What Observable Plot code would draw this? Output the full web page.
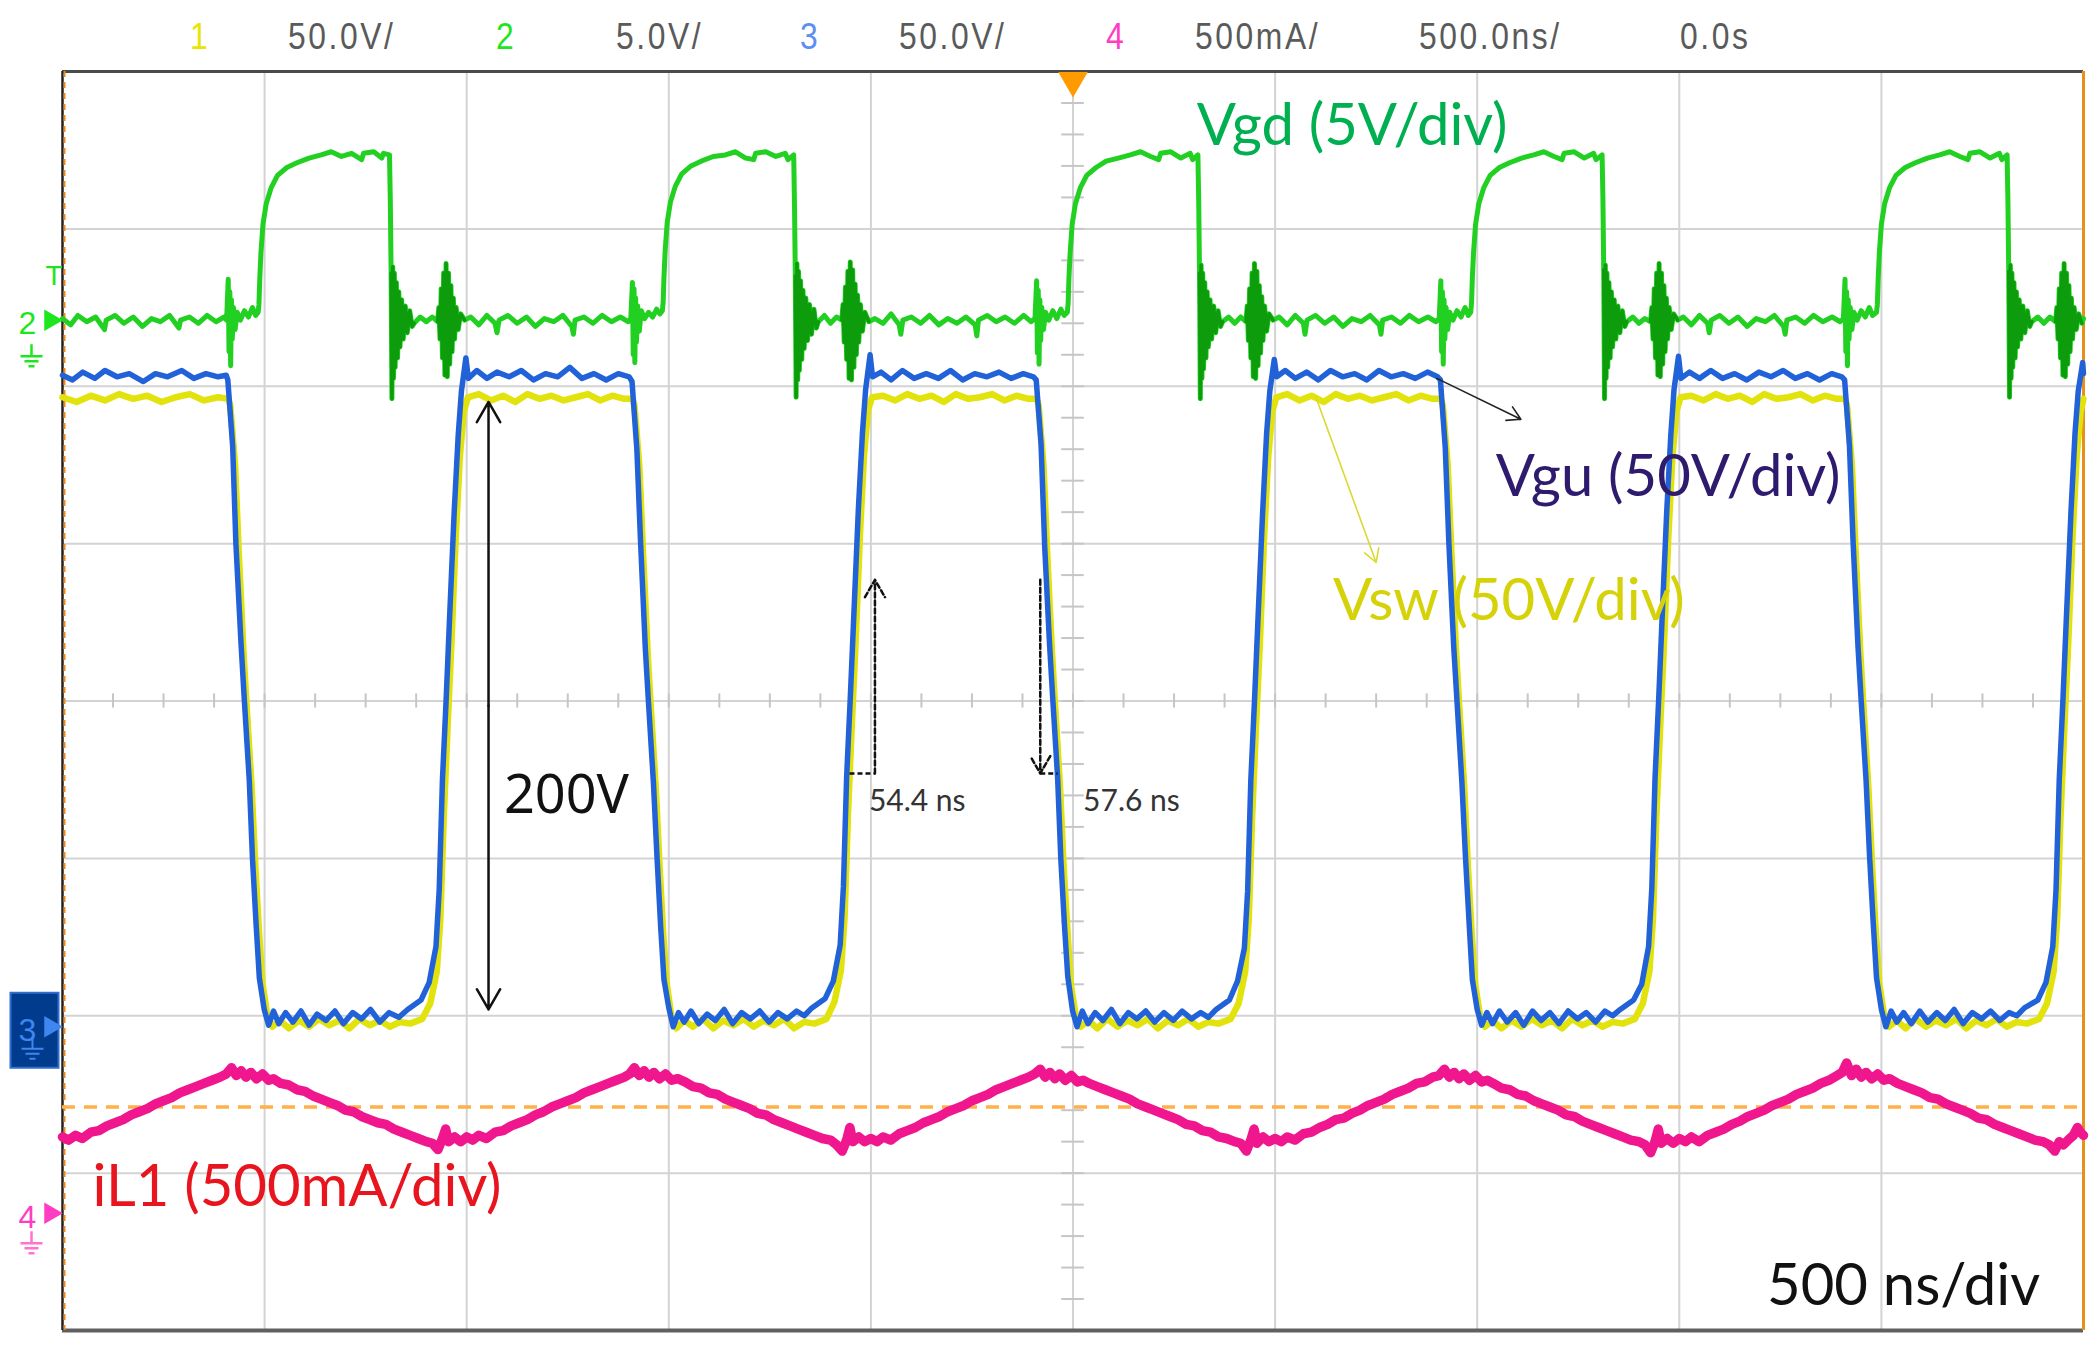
<!DOCTYPE html>
<html><head><meta charset="utf-8">
<script src="https://cdn.jsdelivr.net/npm/d3@7"></script>
<script src="https://cdn.jsdelivr.net/npm/@observablehq/plot@0.6"></script>
<style>
html,body{margin:0;padding:0;background:#fff;}
#wrap{position:relative;width:2100px;height:1348px;overflow:hidden;background:#fff;}
#chart{position:absolute;left:0;top:0;}
.hdr{position:absolute;top:18px;font-family:"Liberation Sans",sans-serif;font-size:37px;line-height:1;color:#5a5a5a;letter-spacing:3px;white-space:nowrap;z-index:2;transform:scaleX(0.86);transform-origin:left top}
</style></head>
<body><div id="wrap"><div id="hdr"></div><div id="chart"></div></div>
<script>
// ---------- screen window (ns, divisions) ----------
const timeWindow = [-2500, 2500];
const divWindow = [-4, 4];
const gridTimes = [-2000, -1500, -1000, -500, 0, 500, 1000, 1500, 2000];
const gridDivs = [-3, -2, -1, 0, 1, 2, 3];
const triggerTime = [0];
const cursorLevel = [-2.58];

// ---------- header (channel settings) ----------
const headerItems = [
  {text: "1", color: "#e6e600", left: 190},
  {text: "50.0V/", color: "#5a5a5a", left: 288},
  {text: "2", color: "#1ee61e", left: 496},
  {text: "5.0V/", color: "#5a5a5a", left: 616},
  {text: "3", color: "#5b8ff2", left: 800},
  {text: "50.0V/", color: "#5a5a5a", left: 899},
  {text: "4", color: "#ff3cc4", left: 1106},
  {text: "500mA/", color: "#5a5a5a", left: 1195},
  {text: "500.0ns/", color: "#5a5a5a", left: 1419},
  {text: "0.0s", color: "#5a5a5a", left: 1680}
];

// ---------- channel ground markers ----------
const channelMarkers = [
  {ch: "2", level: 2.42, color: "#1ee61e"},
  {ch: "3", level: -2.07, color: "#3f86f0"},
  {ch: "4", level: -3.255, color: "#ff3cc4"}
];

// ---------- Vgu (ch3), [ns, div] ----------
const vgu = [
[-2500,2.07],[-2475,2.04],[-2450,2.09],[-2420,2.05],[-2395,2.1],[-2365,2.06],[-2335,2.08],[-2300,2.03],[-2270,2.08],[-2240,2.06],[-2205,2.1],[-2175,2.05],[-2145,2.08],[-2115,2.06],[-2095,2.07],
[-2091,2.04],[-2079,1.62],[-2071,1.0],[-2058,0.35],[-2050,0.0],[-2038,-0.5],[-2030,-1.0],[-2021,-1.42],[-2013,-1.76],[-2001,-1.96],[-1990,-2.06],
[-1978,-1.97],[-1965,-2.05],[-1948,-1.98],[-1930,-2.04],[-1910,-1.97],[-1890,-2.06],[-1870,-1.99],[-1848,-2.03],[-1826,-1.97],[-1805,-2.05],[-1782,-1.98],[-1760,-2.02],[-1738,-1.96],[-1715,-2.04],[-1692,-1.98],[-1668,-2.01],[-1646,-1.96],
[-1613,-1.9],[-1593,-1.79],[-1576,-1.56],[-1568,-1.2],[-1560,-0.5],[-1551,0.0],[-1543,0.49],[-1531,1.2],[-1521,1.69],[-1513,1.97],[-1502,2.18],[-1496,2.05],
[-1475,2.1],[-1450,2.05],[-1425,2.09],[-1395,2.06],[-1365,2.1],[-1335,2.04],[-1305,2.08],[-1275,2.06],[-1245,2.12],[-1215,2.05],[-1185,2.08],[-1155,2.04],[-1125,2.08],[-1098,2.06],
[-1091,2.03],[-1079,1.6],[-1070,1.02],[-1058,0.33],[-1050,-0.02],[-1038,-0.52],[-1029,-1.0],[-1020,-1.44],[-1012,-1.77],[-1000,-1.95],[-989,-2.07],
[-976,-1.98],[-962,-2.04],[-945,-1.97],[-926,-2.05],[-905,-1.99],[-885,-2.03],[-863,-1.96],[-842,-2.05],[-820,-1.98],[-798,-2.02],[-775,-1.97],[-752,-2.04],[-730,-1.98],[-707,-2.02],[-684,-1.97],[-665,-2.0],[-646,-1.95],
[-613,-1.89],[-593,-1.78],[-576,-1.55],[-568,-1.18],[-560,-0.48],[-551,0.02],[-543,0.5],[-531,1.22],[-521,1.7],[-513,1.98],[-502,2.2],[-496,2.06],
[-475,2.09],[-450,2.04],[-422,2.1],[-393,2.05],[-363,2.08],[-333,2.05],[-303,2.1],[-273,2.04],[-243,2.08],[-213,2.06],[-183,2.09],[-153,2.05],[-123,2.08],[-98,2.06],
[-91,2.04],[-79,1.63],[-70,0.98],[-58,0.36],[-50,0.01],[-38,-0.49],[-30,-1.01],[-21,-1.43],[-13,-1.75],[-1,-1.97],[10,-2.07],
[23,-1.97],[37,-2.05],[55,-1.98],[74,-2.03],[95,-1.96],[116,-2.05],[137,-1.98],[158,-2.02],[180,-1.97],[202,-2.04],[225,-1.98],[248,-2.03],[270,-1.97],[293,-2.02],[316,-1.98],[335,-2.01],[354,-1.96],
[387,-1.9],[407,-1.78],[424,-1.57],[432,-1.21],[440,-0.5],[449,0.0],[457,0.48],[469,1.19],[479,1.7],[487,1.97],[498,2.17],[504,2.06],
[525,2.1],[550,2.05],[578,2.09],[607,2.04],[637,2.1],[667,2.06],[697,2.08],[727,2.04],[757,2.1],[787,2.06],[817,2.08],[847,2.05],[877,2.09],[902,2.06],
[909,2.04],[921,1.61],[930,1.0],[942,0.34],[950,0.0],[962,-0.51],[971,-0.99],[980,-1.41],[988,-1.77],[1000,-1.96],[1011,-2.06],
[1024,-1.98],[1038,-2.05],[1055,-1.97],[1074,-2.04],[1095,-1.98],[1115,-2.06],[1137,-1.97],[1158,-2.03],[1180,-1.98],[1202,-2.05],[1225,-1.97],[1248,-2.02],[1270,-1.98],[1293,-2.04],[1316,-1.97],[1335,-2.0],[1354,-1.96],
[1387,-1.9],[1407,-1.8],[1424,-1.56],[1432,-1.19],[1440,-0.49],[1449,0.01],[1457,0.5],[1469,1.21],[1479,1.69],[1487,1.98],[1498,2.19],[1504,2.05],
[1525,2.09],[1550,2.05],[1578,2.1],[1607,2.05],[1637,2.08],[1667,2.04],[1697,2.09],[1727,2.06],[1757,2.1],[1787,2.05],[1817,2.08],[1847,2.04],[1877,2.08],[1902,2.06],
[1909,2.04],[1921,1.62],[1930,1.01],[1942,0.35],[1950,0.0],[1962,-0.5],[1971,-1.0],[1980,-1.42],[1988,-1.76],[2000,-1.96],[2011,-2.07],
[2024,-1.97],[2038,-2.04],[2055,-1.98],[2074,-2.05],[2095,-1.97],[2115,-2.04],[2137,-1.98],[2158,-2.03],[2180,-1.96],[2202,-2.05],[2225,-1.98],[2248,-2.02],[2270,-1.97],[2293,-2.03],[2316,-1.98],[2335,-2.0],[2354,-1.95],
[2387,-1.9],[2407,-1.79],[2424,-1.56],[2432,-1.2],[2440,-0.5],[2449,0.0],[2457,0.49],[2469,1.2],[2479,1.7],[2487,1.97],[2498,2.15],[2500,2.08]
];

// ---------- Vsw (ch1), [ns, div] ----------
const vsw = [
[-2500,1.93],[-2465,1.9],[-2430,1.94],[-2395,1.91],[-2360,1.95],[-2325,1.92],[-2290,1.94],[-2255,1.9],[-2220,1.93],[-2185,1.95],[-2150,1.91],[-2115,1.93],[-2090,1.92],
[-2085,1.88],[-2073,1.5],[-2064,0.95],[-2052,0.3],[-2044,-0.05],[-2032,-0.55],[-2023,-1.05],[-2014,-1.46],[-2005,-1.8],[-1993,-2.0],[-1981,-2.07],
[-1962,-2.03],[-1940,-2.08],[-1915,-2.03],[-1890,-2.07],[-1865,-2.02],[-1840,-2.06],[-1815,-2.03],[-1790,-2.08],[-1765,-2.02],[-1740,-2.06],[-1715,-2.03],[-1690,-2.07],[-1665,-2.04],[-1640,-2.05],
[-1610,-2.02],[-1590,-1.92],[-1574,-1.72],[-1565,-1.38],[-1557,-0.75],[-1547,-0.15],[-1538,0.35],[-1527,1.05],[-1517,1.55],[-1507,1.84],[-1497,1.93],
[-1470,1.95],[-1440,1.91],[-1410,1.94],[-1380,1.9],[-1350,1.95],[-1320,1.92],[-1290,1.94],[-1260,1.91],[-1230,1.93],[-1200,1.95],[-1170,1.91],[-1140,1.94],[-1110,1.92],[-1090,1.92],
[-1085,1.88],[-1073,1.5],[-1064,0.96],[-1052,0.29],[-1044,-0.06],[-1032,-0.56],[-1023,-1.04],[-1014,-1.47],[-1005,-1.8],[-993,-2.01],[-981,-2.08],
[-962,-2.03],[-940,-2.07],[-915,-2.02],[-890,-2.08],[-865,-2.03],[-840,-2.06],[-815,-2.02],[-790,-2.07],[-765,-2.03],[-740,-2.06],[-715,-2.02],[-690,-2.08],[-665,-2.04],[-640,-2.05],
[-610,-2.02],[-590,-1.91],[-574,-1.71],[-565,-1.37],[-557,-0.74],[-547,-0.14],[-538,0.36],[-527,1.06],[-517,1.56],[-507,1.85],[-497,1.93],
[-470,1.94],[-440,1.91],[-410,1.95],[-380,1.92],[-350,1.94],[-320,1.9],[-290,1.95],[-260,1.92],[-230,1.93],[-200,1.95],[-170,1.91],[-140,1.94],[-110,1.92],[-90,1.92],
[-85,1.88],[-73,1.5],[-64,0.95],[-52,0.31],[-44,-0.04],[-32,-0.55],[-23,-1.06],[-14,-1.45],[-5,-1.81],[7,-2.0],[19,-2.07],
[38,-2.03],[60,-2.08],[85,-2.02],[110,-2.07],[135,-2.03],[160,-2.06],[185,-2.02],[210,-2.08],[235,-2.03],[260,-2.06],[285,-2.02],[310,-2.07],[335,-2.04],[360,-2.05],
[390,-2.02],[410,-1.92],[426,-1.72],[435,-1.38],[443,-0.75],[453,-0.15],[462,0.35],[473,1.05],[483,1.55],[493,1.84],[503,1.93],
[530,1.95],[560,1.91],[590,1.94],[620,1.9],[650,1.95],[680,1.92],[710,1.94],[740,1.91],[770,1.93],[800,1.95],[830,1.91],[860,1.94],[890,1.92],[910,1.92],
[915,1.88],[927,1.5],[936,0.95],[948,0.3],[956,-0.05],[968,-0.55],[977,-1.05],[986,-1.46],[995,-1.8],[1007,-2.0],[1019,-2.07],
[1038,-2.03],[1060,-2.08],[1085,-2.03],[1110,-2.07],[1135,-2.02],[1160,-2.06],[1185,-2.03],[1210,-2.08],[1235,-2.02],[1260,-2.06],[1285,-2.03],[1310,-2.07],[1335,-2.04],[1360,-2.05],
[1390,-2.02],[1410,-1.92],[1426,-1.72],[1435,-1.38],[1443,-0.75],[1453,-0.15],[1462,0.35],[1473,1.05],[1483,1.55],[1493,1.84],[1503,1.93],
[1530,1.94],[1560,1.91],[1590,1.95],[1620,1.92],[1650,1.94],[1680,1.9],[1710,1.95],[1740,1.92],[1770,1.93],[1800,1.95],[1830,1.91],[1860,1.94],[1890,1.92],[1910,1.92],
[1915,1.88],[1927,1.5],[1936,0.96],[1948,0.3],[1956,-0.05],[1968,-0.56],[1977,-1.05],[1986,-1.46],[1995,-1.8],[2007,-2.0],[2019,-2.07],
[2038,-2.03],[2060,-2.08],[2085,-2.02],[2110,-2.07],[2135,-2.03],[2160,-2.06],[2185,-2.02],[2210,-2.08],[2235,-2.03],[2260,-2.06],[2285,-2.02],[2310,-2.07],[2335,-2.04],[2360,-2.05],
[2390,-2.02],[2410,-1.92],[2426,-1.72],[2435,-1.38],[2443,-0.75],[2453,-0.15],[2462,0.35],[2473,1.05],[2483,1.55],[2493,1.84],[2500,1.92]
];

// ---------- Vgd (ch2) main trace, [ns, div] ----------
const vgdTrace = [
[-2500,2.43],[-2480,2.39],[-2462,2.45],[-2440,2.41],[-2418,2.44],[-2396,2.36],[-2392,2.42],[-2370,2.45],[-2348,2.4],[-2325,2.44],[-2302,2.38],[-2280,2.43],[-2258,2.41],[-2235,2.45],[-2212,2.37],[-2208,2.42],[-2186,2.44],[-2164,2.4],[-2142,2.45],[-2120,2.41],[-2100,2.44],[-2094,2.42],
[-2090,2.68],[-2088,2.22],[-2086,2.6],[-2084,2.13],[-2082,2.55],[-2080,2.3],[-2077,2.5],[-2073,2.36],[-2068,2.47],[-2060,2.42],[-2050,2.48],[-2040,2.44],[-2030,2.5],[-2022,2.45],[-2016,2.47],[-2014,2.52],[-2012,2.68],[-2009,2.85],[-2004,3.03],[-1996,3.16],[-1984,3.26],[-1968,3.34],[-1945,3.39],[-1920,3.42],[-1890,3.45],[-1860,3.47],[-1835,3.49],[-1810,3.46],[-1785,3.48],[-1760,3.44],[-1755,3.48],[-1730,3.49],[-1710,3.45],[-1706,3.48],[-1691,3.47],[-1689,3.18],
[-1615,2.44],[-1600,2.41],[-1585,2.44],
[-1490,2.44],[-1470,2.39],[-1450,2.45],[-1430,2.4],[-1425,2.34],[-1420,2.42],[-1398,2.45],[-1375,2.4],[-1352,2.44],[-1330,2.38],[-1308,2.43],[-1285,2.41],[-1262,2.45],[-1240,2.38],[-1236,2.33],[-1232,2.42],[-1210,2.44],[-1188,2.4],[-1165,2.45],[-1142,2.41],[-1120,2.44],[-1100,2.41],[-1094,2.43],
[-1090,2.66],[-1088,2.2],[-1086,2.62],[-1084,2.15],[-1082,2.56],[-1080,2.28],[-1077,2.51],[-1073,2.35],[-1068,2.48],[-1060,2.43],[-1050,2.47],[-1040,2.44],[-1030,2.49],[-1022,2.46],[-1016,2.48],[-1014,2.53],[-1012,2.69],[-1009,2.86],[-1004,3.04],[-996,3.17],[-984,3.27],[-968,3.35],[-945,3.4],[-920,3.43],[-890,3.46],[-860,3.47],[-835,3.49],[-810,3.45],[-790,3.44],[-785,3.48],[-760,3.49],[-735,3.46],[-712,3.48],[-705,3.44],[-691,3.47],[-689,3.15],
[-615,2.45],[-600,2.4],[-585,2.44],
[-490,2.43],[-470,2.4],[-450,2.46],[-430,2.39],[-426,2.33],[-421,2.42],[-400,2.44],[-377,2.4],[-355,2.45],[-332,2.39],[-310,2.43],[-287,2.4],[-265,2.44],[-242,2.39],[-238,2.32],[-234,2.42],[-212,2.45],[-190,2.41],[-168,2.44],[-145,2.4],[-122,2.45],[-104,2.41],[-94,2.43],
[-90,2.67],[-88,2.21],[-86,2.61],[-84,2.14],[-82,2.55],[-80,2.29],[-77,2.5],[-73,2.36],[-68,2.47],[-60,2.42],[-50,2.48],[-40,2.43],[-30,2.49],[-22,2.45],[-14,2.47],[-12,2.53],[-10,2.69],[-7,2.85],[-2,3.03],[6,3.16],[18,3.26],[34,3.34],[57,3.39],[82,3.43],[112,3.45],[142,3.47],[167,3.49],[192,3.46],[212,3.44],[217,3.48],[242,3.49],[267,3.45],[290,3.48],[296,3.44],[309,3.47],[311,3.18],
[385,2.44],[400,2.4],[415,2.44],
[510,2.44],[530,2.39],[550,2.45],[570,2.4],[574,2.33],[579,2.42],[600,2.45],[623,2.4],[645,2.44],[668,2.38],[690,2.43],[713,2.41],[735,2.45],[758,2.39],[762,2.33],[766,2.42],[788,2.44],[810,2.4],[832,2.45],[855,2.41],[878,2.44],[898,2.41],[906,2.43],
[910,2.67],[912,2.22],[914,2.6],[916,2.14],[918,2.55],[920,2.3],[923,2.5],[927,2.36],[932,2.47],[940,2.42],[950,2.48],[960,2.44],[970,2.5],[978,2.45],[984,2.47],[986,2.53],[988,2.69],[991,2.85],[996,3.03],[1004,3.16],[1016,3.26],[1032,3.34],[1055,3.39],[1080,3.42],[1110,3.45],[1140,3.47],[1165,3.49],[1190,3.46],[1210,3.44],[1215,3.48],[1240,3.49],[1265,3.45],[1288,3.48],[1294,3.44],[1309,3.47],[1311,3.2],
[1385,2.44],[1400,2.4],[1415,2.43],
[1510,2.44],[1530,2.39],[1550,2.45],[1570,2.4],[1574,2.34],[1579,2.42],[1600,2.45],[1623,2.4],[1645,2.44],[1668,2.38],[1690,2.43],[1713,2.41],[1735,2.45],[1758,2.38],[1762,2.33],[1766,2.42],[1788,2.44],[1810,2.4],[1832,2.45],[1855,2.41],[1878,2.44],[1898,2.41],[1906,2.43],
[1910,2.68],[1912,2.22],[1914,2.6],[1916,2.13],[1918,2.55],[1920,2.3],[1923,2.5],[1927,2.36],[1932,2.47],[1940,2.42],[1950,2.48],[1960,2.44],[1970,2.5],[1978,2.45],[1988,2.47],[1990,2.52],[1992,2.68],[1995,2.85],[2000,3.03],[2008,3.16],[2020,3.26],[2036,3.34],[2059,3.39],[2084,3.42],[2114,3.45],[2144,3.47],[2169,3.49],[2194,3.46],[2214,3.44],[2219,3.48],[2244,3.49],[2269,3.45],[2292,3.48],[2298,3.44],[2311,3.47],[2313,3.18],
[2387,2.44],[2402,2.4],[2417,2.44],
[2500,2.43]
];

// ---------- Vgd (ch2) ringing bursts, [ns, div] ----------
const vgdRinging = [
[[-1687,2.72],[-1685,1.92],[-1683,2.76],[-1681,2.05],[-1679,2.72],[-1677,2.12],[-1674,2.66],[-1671,2.18],[-1668,2.6],[-1665,2.25],[-1661,2.55],[-1657,2.3],[-1652,2.51],[-1647,2.34],[-1641,2.48],[-1635,2.38],[-1630,2.4]],
[[-1572,2.41],[-1569,2.5],[-1566,2.3],[-1563,2.62],[-1560,2.18],[-1557,2.72],[-1554,2.07],[-1551,2.78],[-1548,2.06],[-1545,2.72],[-1542,2.14],[-1539,2.64],[-1536,2.22],[-1533,2.56],[-1530,2.3],[-1526,2.5],[-1521,2.36],[-1515,2.46],[-1505,2.42]],
[[-687,2.7],[-685,1.93],[-683,2.78],[-681,2.04],[-679,2.73],[-677,2.1],[-674,2.67],[-671,2.17],[-668,2.61],[-665,2.24],[-661,2.56],[-657,2.29],[-652,2.52],[-647,2.33],[-641,2.49],[-635,2.37],[-630,2.41]],
[[-572,2.42],[-569,2.52],[-566,2.28],[-563,2.63],[-560,2.17],[-557,2.73],[-554,2.05],[-551,2.79],[-548,2.04],[-545,2.74],[-542,2.12],[-539,2.65],[-536,2.2],[-533,2.58],[-530,2.28],[-526,2.52],[-521,2.35],[-515,2.47],[-505,2.41]],
[[313,2.72],[315,1.92],[317,2.77],[319,2.05],[321,2.72],[323,2.11],[326,2.66],[329,2.18],[332,2.6],[335,2.25],[339,2.55],[343,2.3],[348,2.51],[353,2.34],[359,2.48],[365,2.38],[370,2.41]],
[[428,2.41],[431,2.51],[434,2.29],[437,2.62],[440,2.18],[443,2.72],[446,2.06],[449,2.78],[452,2.05],[455,2.73],[458,2.13],[461,2.64],[464,2.21],[467,2.57],[470,2.29],[474,2.51],[479,2.35],[485,2.46],[495,2.42]],
[[1313,2.74],[1315,1.92],[1317,2.77],[1319,2.05],[1321,2.72],[1323,2.12],[1326,2.66],[1329,2.18],[1332,2.6],[1335,2.25],[1339,2.55],[1343,2.3],[1348,2.51],[1353,2.34],[1359,2.48],[1365,2.38],[1370,2.41]],
[[1429,2.41],[1432,2.5],[1435,2.3],[1438,2.62],[1441,2.18],[1444,2.72],[1447,2.07],[1450,2.78],[1453,2.06],[1456,2.72],[1459,2.14],[1462,2.64],[1465,2.22],[1468,2.56],[1471,2.3],[1475,2.5],[1480,2.36],[1486,2.46],[1496,2.42]],
[[2315,2.73],[2317,1.93],[2319,2.77],[2321,2.05],[2323,2.72],[2325,2.12],[2328,2.66],[2331,2.18],[2334,2.6],[2337,2.25],[2341,2.55],[2345,2.3],[2350,2.51],[2355,2.34],[2361,2.48],[2367,2.38],[2372,2.41]],
[[2431,2.41],[2434,2.5],[2437,2.3],[2440,2.62],[2443,2.18],[2446,2.72],[2449,2.07],[2452,2.78],[2455,2.06],[2458,2.72],[2461,2.14],[2464,2.64],[2467,2.22],[2470,2.56],[2473,2.3],[2477,2.5],[2482,2.36],[2488,2.46],[2496,2.4]]
];

// ---------- iL1 (ch4), [ns, div] ----------
const iL1 = [
[-2500,-2.77],[-2485,-2.79],[-2468,-2.76],[-2451,-2.78],[-2430,-2.74],[-2410,-2.73],[-2390,-2.7],[-2370,-2.68],[-2350,-2.66],[-2330,-2.63],[-2310,-2.61],[-2290,-2.59],[-2270,-2.56],[-2250,-2.54],[-2230,-2.52],[-2210,-2.49],[-2190,-2.47],[-2170,-2.45],[-2150,-2.43],[-2130,-2.41],[-2110,-2.39],[-2095,-2.37],[-2082,-2.33],
[-2070,-2.38],[-2058,-2.35],[-2046,-2.39],[-2034,-2.36],[-2020,-2.4],[-2005,-2.37],[-1990,-2.41],[-1978,-2.4],
[-1960,-2.43],[-1940,-2.44],[-1920,-2.47],[-1900,-2.48],[-1880,-2.51],[-1860,-2.53],[-1840,-2.55],[-1820,-2.57],[-1800,-2.6],[-1780,-2.61],[-1760,-2.64],[-1740,-2.66],[-1720,-2.68],[-1700,-2.69],[-1680,-2.72],[-1660,-2.74],[-1640,-2.76],[-1620,-2.78],[-1600,-2.8],[-1585,-2.81],[-1571,-2.85],
[-1560,-2.78],[-1552,-2.72],[-1545,-2.8],[-1530,-2.77],[-1515,-2.8],[-1500,-2.77],[-1485,-2.79],[-1470,-2.76],[-1451,-2.78],
[-1430,-2.74],[-1410,-2.73],[-1390,-2.7],[-1370,-2.68],[-1350,-2.66],[-1330,-2.63],[-1310,-2.61],[-1290,-2.58],[-1270,-2.56],[-1250,-2.54],[-1230,-2.52],[-1210,-2.49],[-1190,-2.47],[-1170,-2.45],[-1150,-2.43],[-1130,-2.41],[-1110,-2.39],[-1097,-2.37],[-1085,-2.33],
[-1073,-2.38],[-1061,-2.35],[-1049,-2.39],[-1037,-2.36],[-1023,-2.4],[-1008,-2.37],[-993,-2.41],[-978,-2.4],
[-960,-2.42],[-940,-2.45],[-920,-2.46],[-900,-2.49],[-880,-2.5],[-860,-2.53],[-840,-2.55],[-820,-2.57],[-800,-2.59],[-780,-2.62],[-760,-2.63],[-740,-2.66],[-720,-2.68],[-700,-2.7],[-680,-2.72],[-660,-2.74],[-640,-2.76],[-620,-2.78],[-600,-2.79],[-585,-2.82],[-571,-2.86],
[-560,-2.79],[-552,-2.71],[-545,-2.8],[-530,-2.77],[-515,-2.8],[-500,-2.78],[-485,-2.8],[-470,-2.77],[-451,-2.79],
[-430,-2.75],[-410,-2.73],[-390,-2.71],[-370,-2.68],[-350,-2.66],[-330,-2.64],[-310,-2.61],[-290,-2.59],[-270,-2.57],[-250,-2.54],[-230,-2.52],[-210,-2.5],[-190,-2.47],[-170,-2.45],[-150,-2.43],[-130,-2.41],[-110,-2.39],[-95,-2.37],[-81,-2.34],
[-69,-2.39],[-57,-2.36],[-45,-2.4],[-33,-2.37],[-19,-2.41],[-4,-2.38],[11,-2.42],[25,-2.41],
[40,-2.43],[60,-2.45],[80,-2.47],[100,-2.49],[120,-2.51],[140,-2.53],[160,-2.56],[180,-2.58],[200,-2.6],[220,-2.62],[240,-2.64],[260,-2.66],[280,-2.69],[300,-2.7],[320,-2.73],[340,-2.74],[360,-2.77],[380,-2.78],[400,-2.8],[415,-2.81],[429,-2.86],
[440,-2.79],[448,-2.72],[455,-2.81],[470,-2.77],[485,-2.8],[500,-2.78],[515,-2.8],[530,-2.77],[549,-2.79],
[570,-2.75],[590,-2.74],[610,-2.71],[630,-2.69],[650,-2.66],[670,-2.65],[690,-2.62],[710,-2.6],[730,-2.57],[750,-2.55],[770,-2.53],[790,-2.5],[810,-2.48],[830,-2.46],[850,-2.43],[870,-2.42],[890,-2.39],[905,-2.38],[919,-2.34],
[931,-2.39],[943,-2.36],[955,-2.4],[967,-2.37],[981,-2.41],[996,-2.38],[1011,-2.42],[1025,-2.41],
[1040,-2.43],[1060,-2.46],[1080,-2.47],[1100,-2.5],[1120,-2.51],[1140,-2.54],[1160,-2.56],[1180,-2.58],[1200,-2.6],[1220,-2.63],[1240,-2.64],[1260,-2.67],[1280,-2.69],[1300,-2.71],[1320,-2.73],[1340,-2.75],[1360,-2.77],[1380,-2.79],[1400,-2.8],[1415,-2.82],[1429,-2.87],
[1440,-2.8],[1448,-2.72],[1455,-2.81],[1470,-2.78],[1485,-2.81],[1500,-2.78],[1515,-2.8],[1530,-2.77],[1549,-2.8],
[1570,-2.76],[1590,-2.74],[1610,-2.72],[1630,-2.69],[1650,-2.67],[1670,-2.64],[1690,-2.62],[1710,-2.6],[1730,-2.57],[1750,-2.55],[1770,-2.53],[1790,-2.5],[1810,-2.48],[1830,-2.46],[1850,-2.43],[1870,-2.41],[1890,-2.38],[1903,-2.36],[1914,-2.3],
[1926,-2.38],[1938,-2.34],[1950,-2.39],[1962,-2.36],[1976,-2.4],[1991,-2.37],[2006,-2.41],[2020,-2.4],
[2040,-2.43],[2060,-2.45],[2080,-2.47],[2100,-2.49],[2120,-2.52],[2140,-2.53],[2160,-2.56],[2180,-2.58],[2200,-2.6],[2220,-2.62],[2240,-2.65],[2260,-2.66],[2280,-2.69],[2300,-2.71],[2320,-2.73],[2340,-2.75],[2360,-2.77],[2380,-2.79],[2400,-2.8],[2415,-2.82],[2429,-2.86],
[2440,-2.8],[2450,-2.82],[2462,-2.79],[2475,-2.76],[2485,-2.71],[2492,-2.74],[2500,-2.76]
];

// ---------- annotations ----------
const traceLabels = [
  {label: "Vgd (5V/div)", t: 306, v: 3.65, color: "#00b050"},
  {label: "Vgu (50V/div)", t: 1046, v: 1.42, color: "#2e1b6e"},
  {label: "Vsw (50V/div)", t: 643, v: 0.63, color: "#d6d20a"},
  {label: "iL1 (500mA/div)", t: -2426, v: -3.09, color: "#e8141e"},
  {label: "500 ns/div", t: 1717, v: -3.72, color: "#111111"}
];
const amplitudeLabel = [{label: "200V", t: -1408, v: -0.6}];
const edgeLabels = [
  {label: "54.4 ns", t: -505, v: -0.64},
  {label: "57.6 ns", t: 25, v: -0.64}
];
const spanArrows = [
  {x1: -1446, y1: -0.03, x2: -1446, y2: 1.9},
  {x1: -1446, y1: -0.03, x2: -1446, y2: -1.96}
];
const edgeArrows = [
  {x1: -490, y1: -0.46, x2: -490, y2: 0.77},
  {x1: -81, y1: 0.77, x2: -81, y2: -0.46}
];
const edgeHooks = [
  {x1: -553, y1: -0.46, x2: -490, y2: -0.46},
  {x1: -81, y1: -0.46, x2: -38, y2: -0.46}
];
const pointerVgu = [{x1: 900, y1: 2.05, x2: 1108, y2: 1.79}];
const pointerVsw = [{x1: 601, y1: 1.93, x2: 750, y2: 0.88}];

// ---------- header ----------
const hdr = document.getElementById("hdr");
for (const h of headerItems) {
  const s = document.createElement("div");
  s.className = "hdr";
  s.textContent = h.text;
  s.style.left = h.left + "px";
  s.style.color = h.color;
  hdr.appendChild(s);
}

// ---------- symbols ----------
const groundSymbol = {draw(ctx) {
  ctx.moveTo(0, -12); ctx.lineTo(0, 0);
  ctx.moveTo(-11, 0); ctx.lineTo(11, 0);
  ctx.moveTo(-7, 5); ctx.lineTo(7, 5);
  ctx.moveTo(-3, 10); ctx.lineTo(3, 10);
}};
const boxSymbol = {draw(ctx) {
  ctx.moveTo(-24, -37); ctx.lineTo(24, -37); ctx.lineTo(24, 38); ctx.lineTo(-24, 38); ctx.closePath();
}};

const minorTimes = d3.range(timeWindow[0], timeWindow[1] + 1, 125);
const minorDivs = d3.range(divWindow[0], divWindow[1] + 0.01, 0.2);
const vgdAll = vgdTrace.concat(vgdRinging.flat()).sort((a, b) => a[0] - b[0]);
const ringPts = vgdRinging.flatMap((seg, i) => seg.map(p => ({id: i, t: p[0], v: p[1]})));
const X = d => d[0], Y = d => d[1];
const labelFont = "Lato, 'Open Sans', sans-serif";

const chart = Plot.plot({
  width: 2100, height: 1348,
  marginTop: 71, marginBottom: 18, marginLeft: 62, marginRight: 17,
  x: {domain: timeWindow, axis: null},
  y: {domain: divWindow, axis: null},
  style: {background: "transparent", overflow: "visible"},
  marks: [
    Plot.ruleX(gridTimes, {stroke: "#d3d3d3", strokeWidth: 2}),
    Plot.ruleY(gridDivs, {stroke: "#d3d3d3", strokeWidth: 2}),
    Plot.ruleX(minorTimes, {x: d => d, y1: -0.045, y2: 0.045, stroke: "#c6c6c6", strokeWidth: 2}),
    Plot.ruleY(minorDivs, {y: d => d, x1: -28, x2: 28, stroke: "#c6c6c6", strokeWidth: 2}),
    Plot.ruleY([divWindow[1]], {stroke: "#4a4a4a", strokeWidth: 3}),
    Plot.ruleY([divWindow[0]], {stroke: "#606060", strokeWidth: 4}),
    Plot.ruleX([timeWindow[0]], {stroke: "#222", strokeWidth: 2.5}),
    Plot.ruleX([timeWindow[0]], {stroke: "#f08a1c", strokeWidth: 2, strokeDasharray: "6,5", dx: 2}),
    Plot.ruleX([timeWindow[1]], {stroke: "#e8901c", strokeWidth: 3}),
    Plot.ruleY(cursorLevel, {stroke: "#ffb04a", strokeWidth: 3.5, strokeDasharray: "13,9"}),
    Plot.line(iL1, {x: X, y: Y, stroke: "#f0168e", strokeWidth: 9.5, strokeLinejoin: "round"}),
    Plot.line(vsw, {x: X, y: Y, stroke: "#e2e20c", strokeWidth: 6.5, strokeLinejoin: "round"}),
    Plot.line(vgu, {x: X, y: Y, stroke: "#2262d8", strokeWidth: 5.5, strokeLinejoin: "round"}),
    Plot.line(vgdAll, {x: X, y: Y, stroke: "#22d022", strokeWidth: 5, strokeLinejoin: "round"}),
    Plot.line(ringPts, {x: "t", y: "v", z: "id", stroke: "#0c9c0c", strokeWidth: 3.5}),
    // trigger marker
    Plot.dot(triggerTime, {x: d => d, frameAnchor: "top", dy: 9, symbol: "triangle", rotate: 180, r: 11, fill: "#ff9a00"}),
    // annotations
    Plot.arrow(spanArrows, {x1: "x1", y1: "y1", x2: "x2", y2: "y2", stroke: "#111", strokeWidth: 2.5, headLength: 14}),
    Plot.arrow(edgeArrows, {x1: "x1", y1: "y1", x2: "x2", y2: "y2", stroke: "#111", strokeWidth: 2.5, strokeDasharray: "5,3", headLength: 12}),
    Plot.link(edgeHooks, {x1: "x1", y1: "y1", x2: "x2", y2: "y2", stroke: "#111", strokeWidth: 2.5, strokeDasharray: "5,3"}),
    Plot.arrow(pointerVgu, {x1: "x1", y1: "y1", x2: "x2", y2: "y2", stroke: "#222", strokeWidth: 1.6, headLength: 14}),
    Plot.arrow(pointerVsw, {x1: "x1", y1: "y1", x2: "x2", y2: "y2", stroke: "#dada30", strokeWidth: 1.6, headLength: 14}),
    Plot.text(traceLabels, {x: "t", y: "v", text: "label", fill: "color", fontSize: 58, fontFamily: labelFont, textAnchor: "start", lineAnchor: "middle"}),
    Plot.text(amplitudeLabel, {x: "t", y: "v", text: "label", fill: "#111", fontSize: 54, fontFamily: "'Noto Sans', sans-serif", textAnchor: "start", lineAnchor: "middle"}),
    Plot.text(edgeLabels, {x: "t", y: "v", text: "label", fill: "#333", fontSize: 30, fontFamily: labelFont, textAnchor: "start", lineAnchor: "middle"}),
    // channel markers at left
    Plot.dot(channelMarkers, {filter: d => d.ch === "3", y: "level", frameAnchor: "left", dx: -28, dy: 3, symbol: boxSymbol, fill: "#003b8e", stroke: "#2f6fd0", strokeWidth: 2}),
    Plot.text(channelMarkers, {y: "level", text: "ch", frameAnchor: "left", dx: -44, dy: 4, fill: "color", fontSize: 32, fontFamily: "'Liberation Sans', sans-serif"}),
    Plot.dot(channelMarkers, {y: "level", frameAnchor: "left", dx: -12, symbol: "triangle", rotate: 90, r: 8, fill: "color"}),
    Plot.dot(channelMarkers, {filter: d => d.ch === "2", y: "level", frameAnchor: "left", dx: -31, dy: 36, symbol: groundSymbol, stroke: "color", fill: "none", strokeWidth: 2.5}),
    Plot.dot(channelMarkers, {filter: d => d.ch === "3", y: "level", frameAnchor: "left", dx: -30, dy: 22, symbol: groundSymbol, stroke: "color", fill: "none", strokeWidth: 2}),
    Plot.dot(channelMarkers, {filter: d => d.ch === "4", y: "level", frameAnchor: "left", dx: -31, dy: 30, symbol: groundSymbol, stroke: "#ff72d0", fill: "none", strokeWidth: 2.5}),
    Plot.text(channelMarkers, {filter: d => d.ch === "2", y: "level", text: () => "T", frameAnchor: "left", dx: -17, dy: -44, fill: "color", fontSize: 28, fontFamily: "'Liberation Sans', sans-serif"})
  ]
});
document.getElementById("chart").appendChild(chart);
</script></body></html>
